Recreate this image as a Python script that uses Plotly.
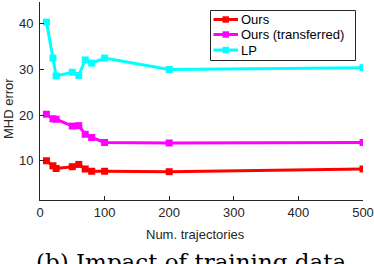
import plotly.graph_objects as go

x_vals = [10, 20, 25, 50, 60, 70, 80, 100, 200, 500]
ours = [10.0, 8.9, 8.3, 8.7, 9.2, 8.2, 7.7, 7.7, 7.6, 8.2]
ours_transferred = [20.2, 19.2, 19.1, 17.6, 17.7, 15.8, 15.1, 14.0, 13.9, 14.0]
lp = [40.4, 32.5, 28.6, 29.4, 28.7, 32.1, 31.4, 32.5, 30.0, 30.4]

series_names = ["Ours", "Ours (transferred)", "LP"]
series_colors = ["#ff0000", "#ff00ff", "#00ffff"]
x_ticks = [0, 100, 200, 300, 400, 500]
y_ticks = [10, 20, 30, 40]

W, H = 374, 264
L, R, T, B = 40, 11, 2, 64
pw, ph = W - L - R, H - T - B

def px_to_paper_x(px):
    return (px - L) / pw

def px_to_paper_y(py):
    return (H - B - py) / ph

fig = go.Figure()
for name, vals, col in zip(series_names, [ours, ours_transferred, lp], series_colors):
    fig.add_trace(go.Scatter(
        x=x_vals, y=vals, name=name, mode="lines+markers",
        line=dict(color=col, width=3),
        marker=dict(symbol="square", size=7, color=col),
        showlegend=False,
    ))

axis_col = "#262626"

# Legend drawn as a boxed key (MATLAB style)
shapes = [dict(type="rect", xref="paper", yref="paper",
               x0=px_to_paper_x(210.5), x1=px_to_paper_x(355.5),
               y0=px_to_paper_y(60.5), y1=px_to_paper_y(10.5),
               line=dict(color=axis_col, width=1), fillcolor="white", layer="above")]
annotations = []
legend_rows = [19.5, 34.5, 50]
for name, col, yy in zip(series_names, series_colors, legend_rows):
    shapes.append(dict(type="line", xref="paper", yref="paper",
                       x0=px_to_paper_x(213.5), x1=px_to_paper_x(238),
                       y0=px_to_paper_y(yy), y1=px_to_paper_y(yy),
                       line=dict(color=col, width=3), layer="above"))
    shapes.append(dict(type="rect", xref="paper", yref="paper",
                       x0=px_to_paper_x(222.5), x1=px_to_paper_x(229),
                       y0=px_to_paper_y(yy + 3.2), y1=px_to_paper_y(yy - 3.2),
                       line=dict(width=0), fillcolor=col, layer="above"))
    annotations.append(dict(text=name, xref="paper", yref="paper",
                            x=px_to_paper_x(239), y=px_to_paper_y(yy),
                            xanchor="left", yanchor="middle", showarrow=False,
                            font=dict(size=13, color="black")))

annotations += [
    dict(text="Num. trajectories", xref="paper", yref="paper",
         x=px_to_paper_x(195), y=px_to_paper_y(234), xanchor="center", yanchor="middle",
         showarrow=False, font=dict(size=13, color=axis_col)),
    dict(text="MHD error", xref="paper", yref="paper", textangle=-90,
         x=px_to_paper_x(8), y=px_to_paper_y(109), xanchor="center", yanchor="middle",
         showarrow=False, font=dict(size=13, color=axis_col)),
    dict(text="(b) Impact of training data", xref="paper", yref="paper",
         x=px_to_paper_x(191), y=px_to_paper_y(262), xanchor="center", yanchor="middle",
         showarrow=False, font=dict(family="DejaVu Serif, serif", size=23, color="black")),
]

fig.update_layout(
    width=W, height=H,
    margin=dict(l=L, r=R, t=T, b=B, autoexpand=False),
    plot_bgcolor="white", paper_bgcolor="white",
    font=dict(family="Liberation Sans, Arial, sans-serif", size=13, color=axis_col),
    showlegend=False,
    xaxis=dict(
        range=[0, 500], tickvals=x_ticks, showgrid=False, zeroline=False,
        showline=True, linecolor=axis_col, linewidth=1, automargin=False,
        ticks="inside", ticklen=4, tickcolor=axis_col,
        tickfont=dict(size=13, color=axis_col),
    ),
    yaxis=dict(
        range=[1.4, 44.8], tickvals=y_ticks, showgrid=False, zeroline=False,
        showline=True, linecolor=axis_col, linewidth=1, automargin=False,
        ticks="inside", ticklen=4, tickcolor=axis_col, ticklabelstandoff=3,
        tickfont=dict(size=13, color=axis_col),
    ),
    shapes=shapes,
    annotations=annotations,
)

fig.write_html("out.html", config={"displayModeBar": False},
               post_script="document.body.style.margin='0';")
